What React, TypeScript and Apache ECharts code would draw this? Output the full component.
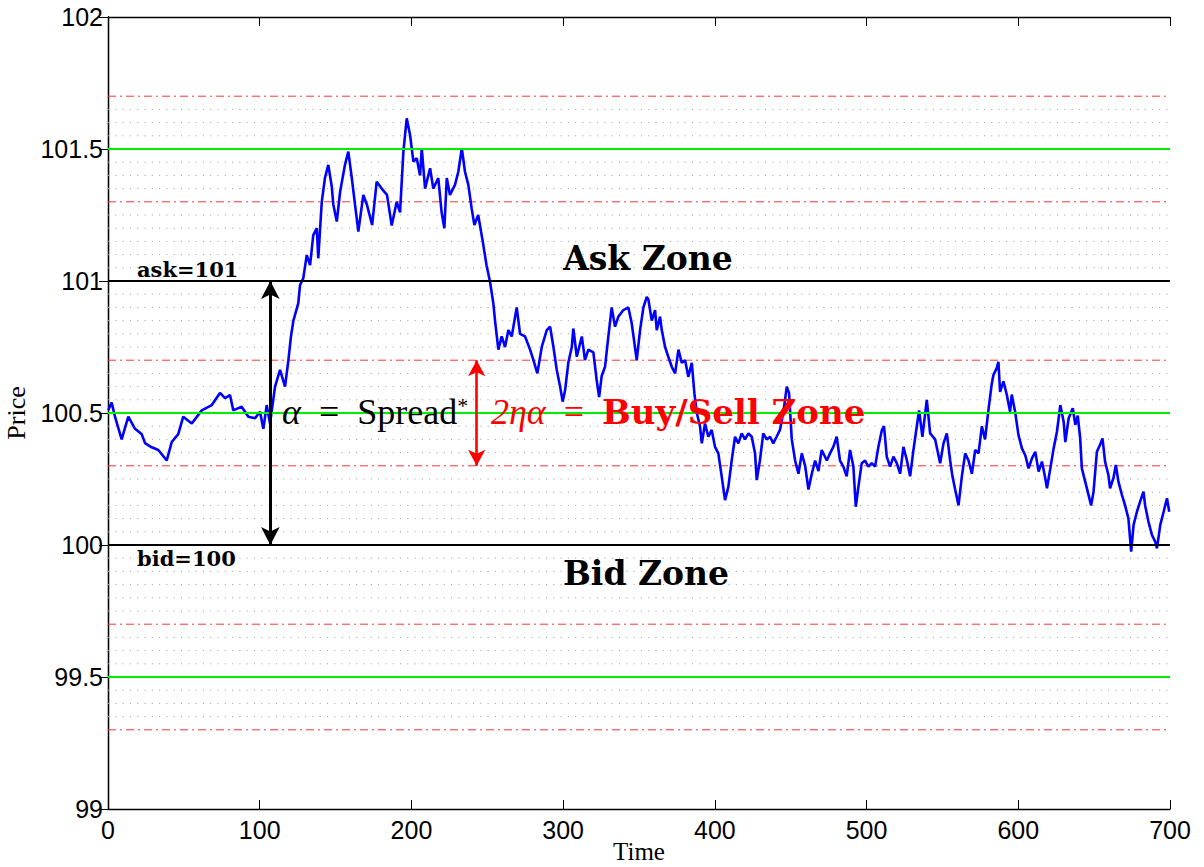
import React, { useEffect, useRef } from "react";
import * as echarts from "echarts";

// ---- data ----
const timeVals = [
  0.2, 2.4, 4.6, 9, 13.4, 17.8, 22.2, 24.4, 28.8, 33.2, 38.7, 42, 46.3, 49.6, 55.2, 61.8, 68.4, 73.8, 77.1, 80.4,
  82.6, 88.1, 92.5, 96.9, 100.2, 102.4, 104.6, 106.8, 110.1, 113.4, 116.7, 118.9, 120.6, 122.2, 125.4, 126.6,
  128.7, 131, 133.2, 135.3, 137.6, 138.6, 140.9, 143, 145.2, 147.5, 148.5, 150.8, 153, 156.2, 158.4, 160.7, 162.8,
  165, 168.3, 170.6, 174.1, 177.1, 180.4, 183.9, 187, 190.3, 192.5, 194.7, 196.9, 199.1, 201.3, 203.5, 205.7,
  206.8, 209, 212.3, 214.4, 217.7, 219.9, 221.7, 223.3, 225.4, 228.7, 230.9, 233.2, 235.3, 237.5, 239.7, 241.5,
  244, 247, 249.5, 251.8, 254, 255.1, 257.3, 259.5, 261.7, 263.9, 266.1, 269.4, 271.6, 274.9, 278.2, 280.4, 283,
  285.9, 289.2, 291.4, 293.6, 295.8, 298, 299.7, 301.3, 303.4, 305.7, 306.7, 309, 312.3, 314.4, 316.6, 319.9,
  322.1, 323.7, 325.4, 327.6, 329.8, 332, 334.2, 336.4, 339.7, 343, 345.2, 348.5, 350.7, 352.9, 355.1, 356.2,
  358.4, 360.6, 361.7, 363.9, 365, 367.2, 369.3, 371.6, 373.8, 376, 378.2, 380.4, 382.5, 384.8, 386.5, 388.1,
  390.2, 391.4, 393.5, 395.7, 397.9, 400.1, 402.3, 404.5, 406.7, 408.9, 411.1, 413.3, 415.5, 417.7, 419.9, 422.1,
  424.3, 426.5, 427.6, 429.7, 431.9, 434.2, 436.4, 438.5, 440.7, 442.9, 445.1, 447.4, 448.9, 450.7, 452.9, 455.1,
  457.3, 459.5, 461.7, 463.9, 466.1, 468.3, 470.4, 473.8, 475.9, 478.1, 480.3, 482.5, 484.7, 486.9, 489.1,
  491.3, 492.9, 494.6, 496.8, 499, 501.2, 503.4, 505.6, 507.8, 510.1, 511.5, 513.3, 515.5, 517.7, 519.9, 522.1,
  524.3, 526.6, 528.7, 530.9, 533.1, 534.6, 536.8, 539.7, 541.9, 545.2, 548.5, 550.7, 552.9, 555.1, 556.6,
  558.4, 560.6, 562.8, 565, 567.2, 569.4, 571.6, 573.8, 576, 578.1, 580.3, 582.5, 583.6, 585.8, 586.9, 588,
  590.2, 592.4, 594.6, 595.7, 597.9, 600.1, 602.4, 604.6, 606.8, 609, 611.2, 613.4, 615.6, 617.8, 618.9, 621.1,
  623.3, 625.5, 627.7, 629.9, 631, 633.2, 635.9, 637.6, 639.2, 640.8, 641.9, 644.1, 646.3, 648, 649.6, 651.8,
  653.9, 655.5, 657.2, 659.4, 660.5, 662.7, 664.3, 666, 668.3, 670.4, 672.6, 674.4, 676, 678.2, 680.3, 682.5,
  683.6, 685.8, 688.1, 690.3, 691.4, 693.6, 695.8, 698, 699.5,
];
const priceVals = [
  100.511, 100.54, 100.486, 100.4, 100.486, 100.44, 100.42, 100.386, 100.37, 100.36, 100.32, 100.39, 100.42,
  100.486, 100.46, 100.51, 100.53, 100.576, 100.556, 100.568, 100.51, 100.524, 100.486, 100.48, 100.505, 100.44,
  100.53, 100.46, 100.6, 100.663, 100.6, 100.7, 100.79, 100.85, 100.915, 100.985, 101.01, 101.098, 101.06,
  101.174, 101.2, 101.086, 101.3, 101.39, 101.44, 101.357, 101.29, 101.225, 101.338, 101.44, 101.49, 101.39,
  101.29, 101.187, 101.326, 101.29, 101.212, 101.376, 101.35, 101.326, 101.21, 101.3, 101.26, 101.49, 101.616,
  101.553, 101.452, 101.465, 101.4, 101.503, 101.35, 101.427, 101.35, 101.39, 101.26, 101.2, 101.39, 101.326,
  101.364, 101.414, 101.503, 101.414, 101.364, 101.275, 101.212, 101.25, 101.15, 101.06, 100.997, 100.915,
  100.85, 100.74, 100.79, 100.75, 100.814, 100.79, 100.9, 100.8, 100.79, 100.74, 100.7, 100.65, 100.75, 100.814,
  100.827, 100.75, 100.663, 100.6, 100.543, 100.587, 100.69, 100.75, 100.82, 100.713, 100.79, 100.7, 100.74,
  100.73, 100.625, 100.56, 100.64, 100.675, 100.79, 100.9, 100.827, 100.865, 100.89, 100.9, 100.84, 100.7,
  100.814, 100.9, 100.94, 100.93, 100.85, 100.89, 100.814, 100.865, 100.814, 100.75, 100.713, 100.675, 100.65,
  100.74, 100.69, 100.7, 100.637, 100.69, 100.575, 100.5, 100.45, 100.385, 100.46, 100.41, 100.436, 100.372,
  100.347, 100.26, 100.17, 100.22, 100.32, 100.41, 100.385, 100.423, 100.4, 100.423, 100.41, 100.347, 100.246,
  100.32, 100.423, 100.4, 100.41, 100.385, 100.41, 100.436, 100.5, 100.6, 100.575, 100.4, 100.32, 100.27,
  100.347, 100.3, 100.21, 100.27, 100.32, 100.28, 100.36, 100.32, 100.347, 100.372, 100.41, 100.32, 100.297,
  100.26, 100.36, 100.297, 100.145, 100.22, 100.31, 100.32, 100.297, 100.31, 100.297, 100.372, 100.436, 100.45,
  100.335, 100.297, 100.335, 100.31, 100.27, 100.372, 100.32, 100.26, 100.36, 100.45, 100.51, 100.41, 100.55,
  100.423, 100.4, 100.31, 100.385, 100.423, 100.32, 100.26, 100.21, 100.15, 100.26, 100.347, 100.32, 100.27,
  100.36, 100.347, 100.45, 100.4, 100.51, 100.61, 100.644, 100.67, 100.694, 100.58, 100.62, 100.57, 100.505,
  100.57, 100.505, 100.417, 100.366, 100.34, 100.29, 100.328, 100.353, 100.278, 100.316, 100.253, 100.215,
  100.29, 100.366, 100.43, 100.53, 100.467, 100.39, 100.48, 100.518, 100.455, 100.49, 100.404, 100.29, 100.24,
  100.19, 100.15, 100.202, 100.353, 100.38, 100.404, 100.316, 100.265, 100.215, 100.253, 100.303, 100.24,
  100.19, 100.15, 100.1, 99.975, 100.076, 100.126, 100.164, 100.202, 100.15, 100.088, 100.038, 100.012, 99.987,
  100.076, 100.126, 100.177, 100.126,
];

const xTicks = [0, 100, 200, 300, 400, 500, 600, 700];
const yTicks = [99, 99.5, 100, 100.5, 101, 101.5, 102];
const greenLevels = [99.5, 100.5, 101.5];
const redLevels = [99.3, 99.7, 100.3, 100.7, 101.3, 101.7];
const blackLevels = [100, 101];
const dottedRange = [99.3, 101.7];
const dottedStep = 0.05;
const spreadArrow = { t: 107, from: 100, to: 101 };
const zoneArrow = { t: 243, from: 100.3, to: 100.7 };

const SERIF = "'Liberation Serif', 'Times New Roman', serif";
const BOLDSERIF = "'DejaVu Serif', serif";
const SANS = "'Liberation Sans', Arial, sans-serif";

function levelSeries(levels: number[], color: string, width: number, type: any, z: number, prefix: string) {
  return levels.map((lvl, i) => ({
    name: prefix + i,
    type: "line",
    data: [
      [xTicks[0], lvl],
      [xTicks[xTicks.length - 1], lvl],
    ],
    symbol: "none",
    silent: true,
    z,
    color,
    lineStyle: { color, width, type },
  }));
}

function arrowSeries(a: { t: number; from: number; to: number }, color: string, width: number, size: number[], z: number) {
  return {
    type: "line",
    data: [],
    z,
    silent: true,
    markLine: {
      silent: true,
      symbol: ["arrow", "arrow"],
      symbolSize: size,
      label: { show: false },
      lineStyle: { color, width, type: "solid" },
      data: [[{ coord: [a.t, a.from] }, { coord: [a.t, a.to] }]],
    },
  };
}

function txt(text: string, x: number, y: number, font: string, fill: string, align: string, rich?: any) {
  return {
    type: "text",
    x,
    y,
    z: 100,
    style: {
      text,
      font,
      fill,
      textAlign: align,
      textVerticalAlign: "middle",
      align,
      verticalAlign: "middle",
      rich,
    },
  };
}

export default function App() {
  const ref = useRef<HTMLDivElement>(null);
  useEffect(() => {
    if (!ref.current) return;
    const chart = echarts.init(ref.current, null, { renderer: "svg" });

    const special = [...greenLevels, ...redLevels, ...blackLevels];
    const dotted: number[] = [];
    const n = Math.round((dottedRange[1] - dottedRange[0]) / dottedStep);
    for (let i = 0; i <= n; i++) {
      const v = Math.round((dottedRange[0] + i * dottedStep) * 100) / 100;
      if (!special.some((s) => Math.abs(s - v) < 1e-6)) dotted.push(v);
    }

    const priceData = timeVals.map((t, i) => [t, priceVals[i]]);

    const axisCommon = {
      type: "value",
      axisLine: { show: true, lineStyle: { color: "#000", width: 1.3 } },
      axisTick: { show: true, inside: true, length: 9, lineStyle: { color: "#000", width: 1 } },
      splitLine: { show: false },
    };

    chart.setOption({
      animation: false,
      grid: { left: 108, right: 34, top: 17, bottom: 58, containLabel: false, outerBoundsMode: "none" },
      xAxis: [
        {
          ...axisCommon,
          min: xTicks[0],
          max: xTicks[xTicks.length - 1],
          interval: 100,
          position: "bottom",
          axisLabel: { color: "#000", fontFamily: SANS, fontSize: 25, margin: 8 },
        },
        {
          ...axisCommon,
          min: xTicks[0],
          max: xTicks[xTicks.length - 1],
          interval: 100,
          position: "top",
          axisLabel: { show: false },
        },
      ],
      yAxis: [
        {
          ...axisCommon,
          min: yTicks[0],
          max: yTicks[yTicks.length - 1],
          interval: 0.5,
          position: "left",
          name: "Price",
          nameLocation: "middle",
          nameGap: 78,
          nameTextStyle: { fontFamily: SERIF, fontSize: 26, color: "#000" },
          axisLabel: { color: "#000", fontFamily: SANS, fontSize: 25, margin: 5 },
        },
        {
          ...axisCommon,
          min: yTicks[0],
          max: yTicks[yTicks.length - 1],
          interval: 0.5,
          position: "right",
          axisLabel: { show: false },
        },
      ],
      series: [
        ...levelSeries(dotted, "#9a9a9a", 1, [1, 6.3], 1, "dot"),
        ...levelSeries(redLevels, "#ff3333", 1, [8, 4, 2, 4], 2, "red"),
        {
          name: "price",
          type: "line",
          data: priceData,
          symbol: "none",
          z: 3,
          color: "#0000ff",
          lineStyle: { color: "#0000ff", width: 2.6, join: "bevel" },
        },
        ...levelSeries(greenLevels, "#00ee00", 2, "solid", 4, "green"),
        ...levelSeries(blackLevels, "#000000", 1.8, "solid", 5, "black"),
        arrowSeries(spreadArrow, "#000", 3, [14, 18], 6),
        arrowSeries(zoneArrow, "#ff0000", 2.6, [13, 16], 6),
      ],
      graphic: [
        txt("Time", 639, 851, `25px ${SERIF}`, "#000", "center"),
        txt("ask=101", 137, 269, `bold 21px ${BOLDSERIF}`, "#000", "left"),
        txt("bid=100", 137, 558, `bold 21px ${BOLDSERIF}`, "#000", "left"),
        txt("Ask Zone", 648, 258, `bold 33px ${BOLDSERIF}`, "#000", "center"),
        txt("Bid Zone", 646, 573, `bold 33px ${BOLDSERIF}`, "#000", "center"),
        txt("{i|α}  =  Spread{s|*}", 282, 412, `36px ${SERIF}`, "#000", "left", {
          i: { fontFamily: SERIF, fontStyle: "italic", fontSize: 36, fill: "#000", color: "#000" },
          s: { fontFamily: SERIF, fontSize: 22, fill: "#000", color: "#000", verticalAlign: "top", lineHeight: 36 },
        }),
        txt("{i|2ηα}  =  {b|Buy/Sell Zone}", 491, 412, `36px ${SERIF}`, "#ff0000", "left", {
          i: { fontFamily: SERIF, fontStyle: "italic", fontSize: 36, fill: "#ff0000", color: "#ff0000" },
          b: { fontFamily: BOLDSERIF, fontWeight: "bold", fontSize: 34, fill: "#ff0000", color: "#ff0000" },
        }),
      ],
    });
    return () => chart.dispose();
  }, []);
  return <div ref={ref} style={{ position: "fixed", left: 0, top: 0, width: 1204, height: 867, background: "#fff" }} />;
}
